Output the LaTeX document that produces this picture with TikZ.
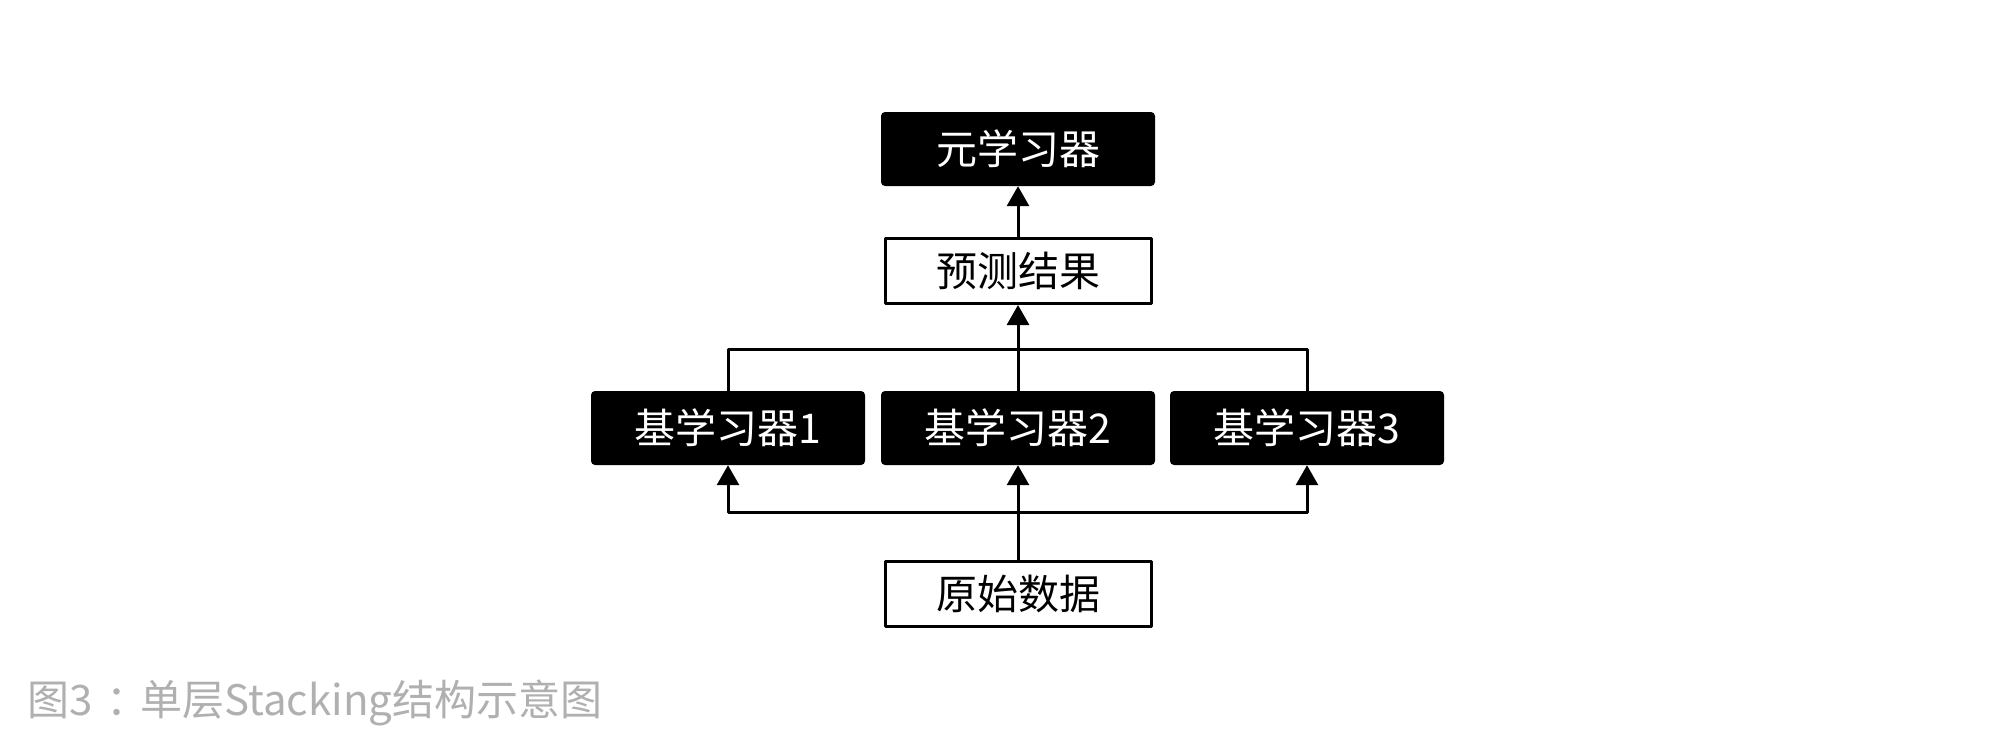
\documentclass[tikz,border=0pt]{standalone}
\usepackage{fontspec}
\setmainfont{Noto Sans CJK SC}
\usetikzlibrary{arrows.meta}
\definecolor{captiongray}{RGB}{176,176,176}
\tikzset{
    stackpic/.style={
        x=1pt, y=-1pt,
        >={Triangle[length=20pt,width=22pt]},
        line cap=round, line join=round,
    },
    learner/.style={
        fill=black, text=white, rounded corners=4pt,
        minimum width=274pt, minimum height=74pt, inner sep=0pt,
        font=\fontsize{41}{48}\selectfont
    },
    databox/.style={
        draw=black, line width=3pt, fill=white, text=black,
        minimum width=266pt, minimum height=65pt, inner sep=0pt,
        font=\fontsize{41}{48}\selectfont
    },
    link/.style={draw=black, line width=3pt}
}
\begin{document}
\begin{tikzpicture}[stackpic]
    \fill[white] (0,0) rectangle (1996,752);
    \useasboundingbox (0,0) rectangle (1996,752);
    % meta level
    \node[learner] (meta) at (1018,149) {元学习器};
    \node[databox] (pred) at (1018,271) {预测结果};
    % base level
    \node[learner] (base1) at (728,428) {基学习器1};
    \node[learner] (base2) at (1018,428) {基学习器2};
    \node[learner] (base3) at (1307,428) {基学习器3};
    \node[databox] (raw) at (1018,594) {原始数据};
    \coordinate (join) at (1018,349);
    \coordinate (split) at (1018,512);
    % connectors
    \draw[link,->] (pred.north) -- (meta.south);
    \draw[link] (base1.north) |- (join) -| (base3.north);
    \draw[link,->] (base2.north) -- (pred.south);
    \draw[link,->] (raw.north) -- (base2.south);
    \draw[link,->] (split) -| (base1.south);
    \draw[link,->] (split) -| (base3.south);
    % caption
    \node[anchor=west, text=captiongray, inner sep=0pt,
          font=\fontsize{42}{50}\selectfont] (caption) at (27,703)
        {图3\hspace{14pt}：\hspace{-8pt}单层Stacking结构示意图};
\end{tikzpicture}
\end{document}
